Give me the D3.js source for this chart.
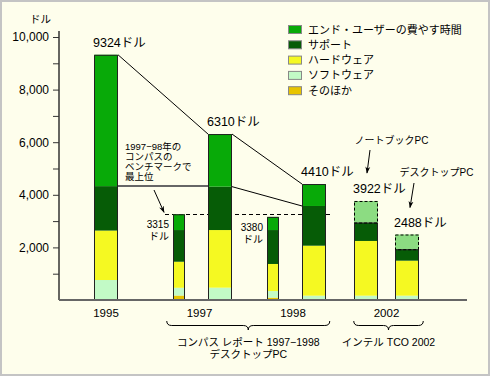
<!DOCTYPE html>
<html>
<head>
<meta charset="utf-8">
<script src="https://cdn.jsdelivr.net/npm/d3@7"></script>
<style>
  body { margin: 0; background: #fff; }
  svg { display: block; }
  text { font-family: "Liberation Sans", Arial, "Noto Sans CJK JP", sans-serif; fill: #000; }
</style>
</head>
<body>
<div id="wrapper"></div>
<script>
/* TCO chart: stacked bars, cost per desktop PC */

// step 1: data
const groups = ["1995", "1997", "1998", "2002"];
const barGroup = ["1995", "1997", "1997", "1998", "1998", "2002", "2002"];
const barSlot = ["only", "left", "right", "left", "right", "left", "right"];
const barKind = ["tco", "compass", "tco", "compass", "tco", "notebook", "desktop"];
const totals = [9324, 3315, 6310, 3380, 4410, 3922, 2488];

const keys = ["other", "software", "hardware", "support", "endUser"];
const other    = [0, 170, 0, 90, 0, 0, 0];
const software = [760, 295, 470, 250, 165, 165, 165];
const hardware = [1880, 990, 2190, 1030, 1900, 2080, 1330];
const support  = [1690, 1205, 1650, 1290, 1510, 700, 435];
const endUser  = [4994, 600, 2000, 500, 835, 820, 560];

const legendLabels = ["エンド・ユーザーの費やす時間", "サポート", "ハードウェア", "ソフトウェア", "そのほか"];
const legendKeys = ["endUser", "support", "hardware", "software", "other"];
const yTicks = [1000, 2000, 3000, 4000, 5000, 6000, 7000, 8000, 9000, 10000];
const benchmarkBest = 3260;
const noteLines = ["1997−98年の", "コンパスの", "ベンチマークで", "最上位"];
const braceLabels = [["コンパス レポート 1997−1998", "デスクトップPC"], ["インテル TCO 2002"]];
const braceGroups = [["1997", "1998"], ["2002"]];

const colors = {
  endUser: "#08aa08",
  support: "#065c06",
  hardware: "#f5f922",
  software: "#c2fac6",
  other: "#e8c400",
  estimate: "#8cdc82"
};

// step 2: dimensions
const dimensions = { width: 490, height: 376, top: 37, bottom: 300, left: 59, right: 467 };

// step 3: canvas
const svg = d3.select("#wrapper").append("svg")
  .attr("width", dimensions.width)
  .attr("height", dimensions.height);

svg.append("rect")
  .attr("x", 1).attr("y", 1)
  .attr("width", dimensions.width - 2).attr("height", dimensions.height - 2)
  .attr("fill", "#fefeec")
  .attr("stroke", "#c4c4c4").attr("stroke-width", 2);

svg.append("defs").append("marker")
  .attr("id", "arrow")
  .attr("viewBox", "0 0 10 10")
  .attr("refX", 9).attr("refY", 5)
  .attr("markerWidth", 7).attr("markerHeight", 7)
  .attr("orient", "auto")
  .append("path")
  .attr("d", "M0,1.5 L10,5 L0,8.5 L3,5 z")
  .attr("fill", "#000");

// step 4: scales
const y = d3.scaleLinear().domain([0, 10000]).range([dimensions.bottom, dimensions.top]);
const x = d3.scaleBand().domain(groups).range([59.25, 433.25]).padding(0);
const slot = d3.scalePoint().domain(["left", "right"]).range([-20.5, 20.5]);

const rows = barGroup.map((g, i) => ({
  group: g, slot: barSlot[i], kind: barKind[i], total: totals[i],
  other: other[i], software: software[i], hardware: hardware[i],
  support: support[i], endUser: endUser[i]
}));
const series = d3.stack().keys(keys)(rows);

const barWidth = d => d.kind === "compass" ? 12 : 24;
const barCenter = d => x(d.group) + x.bandwidth() / 2 + (d.slot === "only" ? 0 : slot(d.slot));
const barLeft = d => Math.round(barCenter(d) - barWidth(d) / 2);
const stackTop = i => y(series[series.length - 1][i][1]);
const supportTop = i => y(series[keys.indexOf("support")][i][1]);

// y axis
const yAxis = d3.axisLeft(y)
  .tickValues(yTicks)
  .tickSize(6)
  .tickPadding(4)
  .tickFormat(d => d % 2000 === 0 ? d3.format(",")(d) : "");

const axisG = svg.append("g")
  .attr("transform", `translate(${dimensions.left},0)`)
  .call(yAxis);
axisG.select(".domain").remove();
axisG.selectAll(".tick line").attr("stroke", "#333");
axisG.selectAll(".tick text")
  .style("font-size", "12px")
  .attr("fill", "#000");

svg.append("line")
  .attr("x1", dimensions.left).attr("x2", dimensions.left)
  .attr("y1", y(10000) - 6).attr("y2", dimensions.bottom)
  .attr("stroke", "#333").attr("stroke-width", 1.5);

svg.append("text")
  .attr("x", 30).attr("y", 23)
  .style("font-size", "10.5px")
  .text("ドル");

// connecting lines between the TCO bars
const tcoIdx = rows.map((d, i) => d.kind === "tco" ? i : -1).filter(i => i >= 0);
d3.pairs(tcoIdx).forEach(([a, b], k) => {
  svg.append("line")
    .attr("x1", barLeft(rows[a]) + barWidth(rows[a])).attr("y1", stackTop(a))
    .attr("x2", barLeft(rows[b])).attr("y2", stackTop(b))
    .attr("stroke", "#000").attr("stroke-width", 1);
  svg.append("line")
    .attr("x1", barLeft(rows[a]) + barWidth(rows[a])).attr("y1", supportTop(a))
    .attr("x2", barLeft(rows[b])).attr("y2", k === 0 ? supportTop(a) : supportTop(b))
    .attr("stroke", k === 0 ? "#666" : "#000").attr("stroke-width", k === 0 ? 2 : 1);
});

// dashed benchmark line
const compassIdx = rows.map((d, i) => d.kind === "compass" ? i : -1).filter(i => i >= 0);
svg.append("line")
  .attr("x1", barLeft(rows[compassIdx[0]]) - 8)
  .attr("x2", barLeft(rows[4]) + 30)
  .attr("y1", Math.round(y(benchmarkBest)) + 0.5)
  .attr("y2", Math.round(y(benchmarkBest)) + 0.5)
  .attr("stroke", "#000").attr("stroke-dasharray", "4,3");

// step 5: bars
const bars = svg.append("g");
series.forEach(s => {
  bars.selectAll(null)
    .data(s.filter(d => d[1] - d[0] > 0))
    .join("rect")
    .attr("x", d => barLeft(d.data))
    .attr("y", d => y(d[1]))
    .attr("width", d => barWidth(d.data))
    .attr("height", d => y(d[0]) - y(d[1]))
    .attr("fill", d => s.key === "endUser" && (d.data.kind === "notebook" || d.data.kind === "desktop")
      ? colors.estimate : colors[s.key]);
});

// outlines
rows.forEach((d, i) => {
  const estimated = d.kind === "notebook" || d.kind === "desktop";
  const solidTop = estimated ? supportTop(i) : stackTop(i);
  svg.append("path")
    .attr("d", `M${barLeft(d) + 0.5},${dimensions.bottom} V${solidTop + 0.5} H${barLeft(d) + barWidth(d) - 0.5} V${dimensions.bottom}`)
    .attr("fill", "none").attr("stroke", "#222").attr("stroke-width", 1);
  if (estimated) {
    svg.append("rect")
      .attr("x", barLeft(d) + 0.5).attr("y", stackTop(i) + 0.5)
      .attr("width", barWidth(d) - 1).attr("height", supportTop(i) - stackTop(i))
      .attr("fill", "none").attr("stroke", "#000").attr("stroke-dasharray", "3,2");
  }
});

// total labels
rows.forEach((d, i) => {
  if (d.kind === "compass") {
    const t = svg.append("text")
      .attr("text-anchor", "end")
      .style("font-size", "10px");
    t.append("tspan").attr("x", barLeft(d) - 4).attr("y", stackTop(i) + 14).text(d.total);
    t.append("tspan").attr("x", barLeft(d) - 4).attr("y", stackTop(i) + 26).text("ドル");
  } else {
    svg.append("text")
      .attr("x", barLeft(d) - 1)
      .attr("y", stackTop(i) - 8)
      .style("font-size", "12.5px")
      .text(d.total + "ドル");
  }
});

// baseline
svg.append("line")
  .attr("x1", dimensions.left).attr("x2", dimensions.right)
  .attr("y1", dimensions.bottom).attr("y2", dimensions.bottom)
  .attr("stroke", "#666").attr("stroke-width", 2);

// x labels
svg.selectAll(".xlab")
  .data(groups)
  .join("text")
  .attr("class", "xlab")
  .attr("x", d => x(d) + x.bandwidth() / 2)
  .attr("y", 317)
  .attr("text-anchor", "middle")
  .style("font-size", "11.5px")
  .text(d => d);

// braces
const brace = (x1, x2, y0, h) => {
  const cx = (x1 + x2) / 2, m = y0 + h / 2, r = 5;
  return `M${x1},${y0} Q${x1},${m} ${x1 + r},${m} L${cx - r},${m} Q${cx},${m} ${cx},${y0 + h}` +
         ` Q${cx},${m} ${cx + r},${m} L${x2 - r},${m} Q${x2},${m} ${x2},${y0}`;
};
braceGroups.forEach((gs, k) => {
  const x1 = x(gs[0]) + 14;
  const x2 = x(gs[gs.length - 1]) + x.bandwidth() - 10;
  svg.append("path")
    .attr("d", brace(x1, x2, 321, 9))
    .attr("fill", "none").attr("stroke", "#000").attr("stroke-width", 1);
  const t = svg.append("text").attr("text-anchor", "middle").style("font-size", "10.5px");
  braceLabels[k].forEach((line, j) => {
    t.append("tspan").attr("x", (x1 + x2) / 2).attr("y", 346 + j * 12).text(line);
  });
});

// note + arrows
const note = svg.append("text").style("font-size", "9.5px");
noteLines.forEach((line, j) => {
  note.append("tspan").attr("x", 125).attr("y", 150 + j * 9.9).text(line);
});
const arrow = (x1, y1, x2, y2) => svg.append("line")
  .attr("x1", x1).attr("y1", y1).attr("x2", x2).attr("y2", y2)
  .attr("stroke", "#000").attr("stroke-width", 1)
  .attr("marker-end", "url(#arrow)");
arrow(154, 190, barLeft(rows[compassIdx[0]]) - 9, y(benchmarkBest) - 2);
arrow(370, 150, barLeft(rows[5]) + 13, stackTop(5) - 28);
arrow(414, 183, barLeft(rows[6]) + 15, stackTop(6) - 27);

svg.append("text").attr("x", 391.5).attr("y", 143.5)
  .attr("text-anchor", "middle").style("font-size", "10px").text("ノートブックPC");
svg.append("text").attr("x", 436.5).attr("y", 175.5)
  .attr("text-anchor", "middle").style("font-size", "10px").text("デスクトップPC");

// legend
const legend = svg.append("g").attr("transform", "translate(288,25)");
legendKeys.forEach((k, i) => {
  legend.append("rect")
    .attr("x", 0.5).attr("y", i * 15.3 + 0.5)
    .attr("width", 13).attr("height", 8)
    .attr("fill", colors[k]).attr("stroke", "#888");
  legend.append("text")
    .attr("x", 20).attr("y", i * 15.3 + 8.5)
    .style("font-size", "11px")
    .text(legendLabels[i]);
});
</script>
</body>
</html>
